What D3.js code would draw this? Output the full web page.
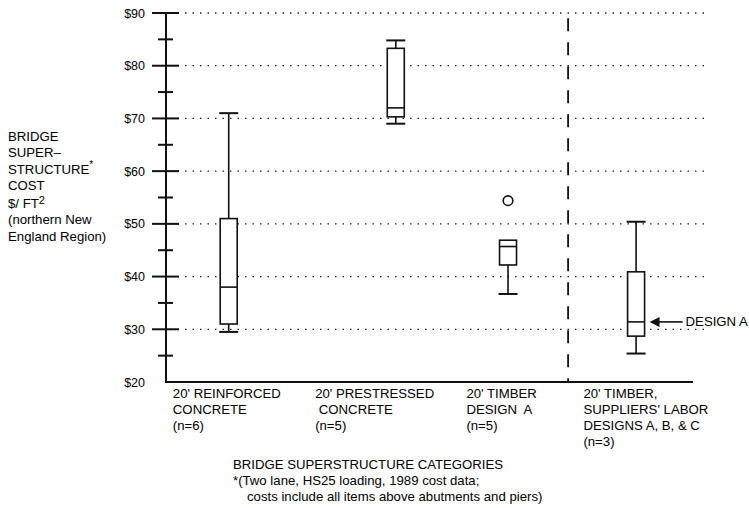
<!DOCTYPE html>
<html lang="en">
  <head>
    <meta charset="UTF-8" />
    <title>Bridge superstructure cost</title>
    <script src="https://cdn.jsdelivr.net/npm/d3@7"></script>
    <style>
      body {
        margin: 0;
        padding: 0;
        background: #fff;
      }
      text {
        font-family: 'Liberation Sans', Arial, Helvetica, sans-serif;
        fill: #000;
      }
    </style>
  </head>

  <body>
    <svg width="749" height="508"></svg>

    <script>
      // data
      var categories = [
        ["20' REINFORCED", 'CONCRETE', '(n=6)'],
        ["20' PRESTRESSED", ' CONCRETE', '(n=5)'],
        ["20' TIMBER", 'DESIGN  A', '(n=5)'],
        ["20' TIMBER,", "SUPPLIERS' LABOR", 'DESIGNS A, B, & C', '(n=3)'],
      ]
      var whiskerLow = [29.5, 69, 36.7, 25.4]
      var q1 = [31, 70.3, 42.2, 28.7]
      var median = [38, 72, 45.7, 31.4]
      var q3 = [51, 83.3, 46.9, 40.9]
      var whiskerHigh = [71, 84.8, 46.9, 50.4]
      var outliers = [[], [], [54.4], []]
      var yTickLabels = [20, 30, 40, 50, 60, 70, 80, 90]
      var designAValue = 31.4

      // layout (slot units along the x scale)
      var boxPos = [1.19, 4.36, 6.49, 8.92]
      var labelPos = [0.13, 2.83, 5.7, 7.92]
      var dividerPos = 7.63
      var fs = 13.2

      var svg = d3.select('svg')
      var plotLeft = 166
      var plotRight = 693
      var plotTop = 13
      var plotBottom = 382

      var x = d3.scaleLinear().domain([0, 10]).range([plotLeft, plotRight])
      var y = d3.scaleLinear().domain([20, 90]).range([plotBottom, plotTop])

      // dotted grid lines
      svg
        .append('g')
        .selectAll('line')
        .data(yTickLabels.slice(1))
        .enter()
        .append('line')
        .attr('x1', plotLeft + 4)
        .attr('x2', 704)
        .attr('y1', (d) => y(d))
        .attr('y2', (d) => y(d))
        .attr('stroke', '#222')
        .attr('stroke-width', 1.3)
        .attr('stroke-dasharray', '1.5,6')

      // y axis labels
      var yAxis = d3
        .axisLeft(y)
        .tickValues(yTickLabels)
        .tickSize(0)
        .tickPadding(21)
        .tickFormat((d) => '$' + d)
      var ya = svg
        .append('g')
        .attr('transform', `translate(${plotLeft},0)`)
        .call(yAxis)
      ya.select('.domain').remove()
      ya.selectAll('text')
        .attr('font-size', 12.5)
        .attr('font-family', "'Liberation Sans', Arial, sans-serif")
        .attr('fill', '#000')

      // tick marks crossing the axis
      var major = d3.range(30, 91, 10)
      var minor = d3.range(25, 90, 10)
      svg
        .append('g')
        .selectAll('line')
        .data(major)
        .enter()
        .append('line')
        .attr('x1', plotLeft - 14)
        .attr('x2', plotLeft + 13)
        .attr('y1', (d) => y(d))
        .attr('y2', (d) => y(d))
        .attr('stroke', '#111')
        .attr('stroke-width', 2)
      svg
        .append('g')
        .selectAll('line')
        .data(minor)
        .enter()
        .append('line')
        .attr('x1', plotLeft - 8)
        .attr('x2', plotLeft + 7)
        .attr('y1', (d) => y(d))
        .attr('y2', (d) => y(d))
        .attr('stroke', '#111')
        .attr('stroke-width', 2)

      // axis lines
      svg
        .append('path')
        .attr('d', `M${plotLeft},${plotTop}V${plotBottom}H${plotRight}`)
        .attr('fill', 'none')
        .attr('stroke', '#111')
        .attr('stroke-width', 2)

      // dashed divider
      svg
        .append('line')
        .attr('x1', x(dividerPos))
        .attr('x2', x(dividerPos))
        .attr('y1', y(89))
        .attr('y2', plotBottom)
        .attr('stroke', '#111')
        .attr('stroke-width', 1.8)
        .attr('stroke-dasharray', '13,11')

      // boxes
      var boxW = 17
      var capW = 19
      var gs = svg.selectAll('.box').data(categories).enter().append('g')

      gs.append('line')
        .attr('x1', (d, i) => x(boxPos[i]))
        .attr('x2', (d, i) => x(boxPos[i]))
        .attr('y1', (d, i) => y(whiskerHigh[i]))
        .attr('y2', (d, i) => y(q3[i]))
        .attr('stroke', '#111')
        .attr('stroke-width', 1.6)
      gs.append('line')
        .attr('x1', (d, i) => x(boxPos[i]))
        .attr('x2', (d, i) => x(boxPos[i]))
        .attr('y1', (d, i) => y(q1[i]))
        .attr('y2', (d, i) => y(whiskerLow[i]))
        .attr('stroke', '#111')
        .attr('stroke-width', 1.6)
      gs.append('rect')
        .attr('x', (d, i) => x(boxPos[i]) - boxW / 2)
        .attr('y', (d, i) => y(q3[i]))
        .attr('width', boxW)
        .attr('height', (d, i) => y(q1[i]) - y(q3[i]))
        .attr('fill', '#fff')
        .attr('stroke', '#111')
        .attr('stroke-width', 1.6)
      gs.append('line')
        .attr('x1', (d, i) => x(boxPos[i]) - boxW / 2)
        .attr('x2', (d, i) => x(boxPos[i]) + boxW / 2)
        .attr('y1', (d, i) => y(median[i]))
        .attr('y2', (d, i) => y(median[i]))
        .attr('stroke', '#111')
        .attr('stroke-width', 1.6)
      // caps (no top cap when the whisker has no length)
      gs.append('line')
        .attr('x1', (d, i) => x(boxPos[i]) - capW / 2)
        .attr('x2', (d, i) => x(boxPos[i]) + capW / 2)
        .attr('y1', (d, i) => y(whiskerHigh[i]))
        .attr('y2', (d, i) => y(whiskerHigh[i]))
        .attr('stroke', '#111')
        .attr('stroke-width', 2)
        .attr('display', (d, i) => (whiskerHigh[i] > q3[i] ? null : 'none'))
      gs.append('line')
        .attr('x1', (d, i) => x(boxPos[i]) - capW / 2)
        .attr('x2', (d, i) => x(boxPos[i]) + capW / 2)
        .attr('y1', (d, i) => y(whiskerLow[i]))
        .attr('y2', (d, i) => y(whiskerLow[i]))
        .attr('stroke', '#111')
        .attr('stroke-width', 2)
      // outliers
      gs.each(function (d, i) {
        d3.select(this)
          .selectAll('circle')
          .data(outliers[i])
          .enter()
          .append('circle')
          .attr('cx', x(boxPos[i]))
          .attr('cy', (v) => y(v))
          .attr('r', 4.8)
          .attr('fill', 'none')
          .attr('stroke', '#111')
          .attr('stroke-width', 1.6)
      })

      // category labels
      gs.append('text')
        .attr('font-size', fs)
        .attr('x', (d, i) => x(labelPos[i]))
        .attr('y', 398)
        .style('white-space', 'pre')
        .selectAll('tspan')
        .data((d) => d)
        .enter()
        .append('tspan')
        .attr('x', function () {
          return d3.select(this.parentNode).attr('x')
        })
        .attr('dy', (d, j) => (j === 0 ? 0 : 16))
        .text((d) => d)

      // DESIGN A arrow
      var ay = y(designAValue)
      var ax = x(boxPos[3]) + boxW / 2 + 5
      svg
        .append('line')
        .attr('x1', ax + 8)
        .attr('x2', ax + 33)
        .attr('y1', ay)
        .attr('y2', ay)
        .attr('stroke', '#111')
        .attr('stroke-width', 1.6)
      svg
        .append('path')
        .attr('d', `M${ax},${ay}L${ax + 10},${ay - 5}L${ax + 10},${ay + 5}Z`)
        .attr('fill', '#111')
      svg
        .append('text')
        .attr('x', ax + 36)
        .attr('y', ay + 4.5)
        .attr('font-size', fs)
        .text('DESIGN A')

      // y title
      var yTitle = svg
        .append('text')
        .attr('font-size', fs)
        .attr('x', 8)
        .attr('y', 141)
      yTitle.append('tspan').attr('x', 8).text('BRIDGE')
      yTitle.append('tspan').attr('x', 8).attr('dy', 16.4).text('SUPER–')
      yTitle.append('tspan').attr('x', 8).attr('dy', 16.4).text('STRUCTURE')
      yTitle.append('tspan').attr('dy', -6).attr('font-size', 10).text('*')
      yTitle.append('tspan').attr('x', 8).attr('dy', 22.4).text('COST')
      yTitle.append('tspan').attr('x', 8).attr('dy', 17.5).text('$/ FT')
      yTitle.append('tspan').attr('dy', -4).attr('font-size', 11).text('2')
      yTitle.append('tspan').attr('x', 8).attr('dy', 20.4).text('(northern New')
      yTitle.append('tspan').attr('x', 8).attr('dy', 16.4).text('England Region)')

      // x title and footnote
      var xTitle = svg.append('text').attr('font-size', fs)
      xTitle
        .append('tspan')
        .attr('x', 233)
        .attr('y', 469)
        .text('BRIDGE SUPERSTRUCTURE CATEGORIES')
      xTitle
        .append('tspan')
        .attr('x', 233)
        .attr('y', 485)
        .text('*(Two lane, HS25 loading, 1989 cost data;')
      xTitle
        .append('tspan')
        .attr('x', 247)
        .attr('y', 501)
        .text('costs include all items above abutments and piers)')
    </script>
  </body>
</html>
